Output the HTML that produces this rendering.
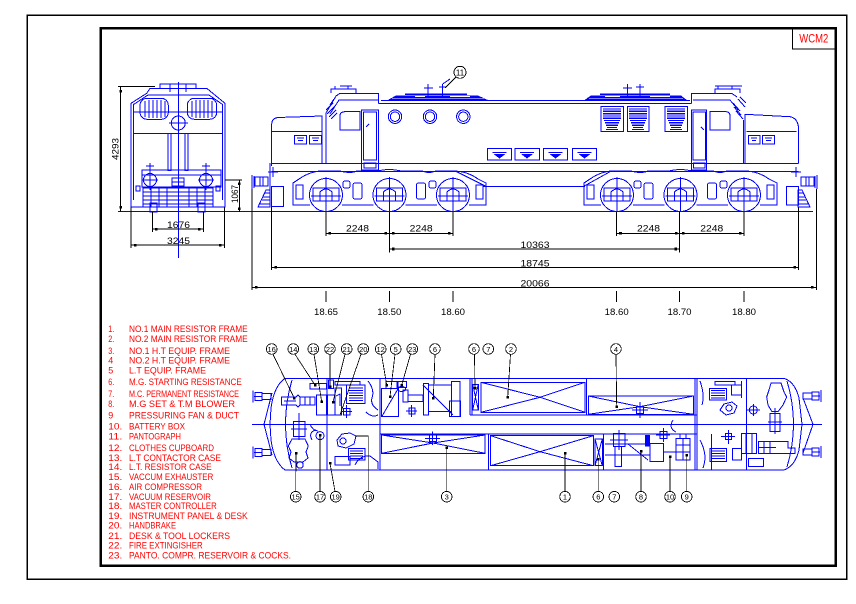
<!DOCTYPE html>
<html><head><meta charset="utf-8"><style>
html,body{margin:0;padding:0;background:#fff;width:856px;height:604px;overflow:hidden}
svg{display:block}
text{font-family:"Liberation Sans",sans-serif}
</style></head><body>
<svg width="856" height="604" viewBox="0 0 856 604" xmlns="http://www.w3.org/2000/svg" shape-rendering="crispEdges">
<defs>
<g id="bg" stroke="#00f" fill="none" stroke-width="1">
 <circle cx="0" cy="0" r="16.5"/><circle cx="63.5" cy="0" r="16.5"/><circle cx="127" cy="0" r="16.5"/>
 <path d="M-33,-6 L-33,-12 L-27,-16 Q-14,-25 0,-24 L14,-24 Q24,-21 31,-24 L52,-24 Q63.5,-27 75,-24 L96,-24 Q103,-21 110,-24 L127,-24 Q141,-24 152,-16 L160,-12 L160,-6"/>
 <path d="M-33,-6 L-33,10 L-16,10 M16,10 L47.5,10 M79.5,10 L111,10 M143,10 L160,10 L160,-6"/>
 <rect x="-13" y="-7" width="26" height="13"/><path d="M-6,6 L-6,-3 Q0,-9 6,-3 L6,6"/>
 <rect x="50.5" y="-7" width="26" height="13"/><path d="M57.5,6 L57.5,-3 Q63.5,-9 69.5,-3 L69.5,6"/>
 <rect x="114" y="-7" width="26" height="13"/><path d="M121,6 L121,-3 Q127,-9 133,-3 L133,6"/>
 <rect x="27" y="-12" width="9" height="16" rx="2"/><rect x="90.5" y="-12" width="9" height="16" rx="2"/>
 <rect x="17" y="-14" width="7" height="7" rx="2"/><rect x="103" y="-14" width="7" height="7" rx="2"/>
 <rect x="-30" y="-10" width="7" height="14"/><rect x="150" y="-10" width="7" height="14"/>
 <path d="M0,-18 L0,17 M63.5,-18 L63.5,17 M127,-18 L127,17 M-15,1 L15,1 M48.5,1 L78.5,1 M112,1 L142,1"/>
</g>
</defs>
<rect width="856" height="604" fill="#fff"/>
<!-- frames -->
<rect x="27.3" y="15.3" width="819.5" height="564" fill="none" stroke="#000" stroke-width="1.3"/>
<rect x="100.8" y="28.2" width="734.7" height="537.5" fill="none" stroke="#000" stroke-width="2.5"/>
<rect x="792.3" y="28.3" width="42.7" height="20.7" fill="none" stroke="#000" stroke-width="1"/>
<text x="799.3" y="42.5" font-size="12" fill="#f00" textLength="29" lengthAdjust="spacingAndGlyphs">WCM2</text>

<!-- ============ FRONT VIEW ============ -->
<g stroke="#00f" fill="none" stroke-width="1">
 <line x1="118" y1="211.7" x2="813" y2="211.7"/>
 <line x1="178.3" y1="82" x2="178.3" y2="258"/>
 <path d="M131,207 L131,103.3 L146.7,93.3 L150,88.3 L206.7,88.3 L225,103.3 L225,207 Z"/>
 <path d="M133.5,200 L133.5,104.5 L148,95 L209,95 L222.5,104.5 L222.5,200"/>
 <path d="M160,88 L160,84 L196,84 L196,88 M170,84 L170,92 M186,84 L186,92"/>
 <rect x="140" y="98.3" width="28.3" height="21" rx="7"/>
 <rect x="187.3" y="98.3" width="29.4" height="21" rx="7"/>
 <path d="M145,101 L145,117 M149,100 L149,118 M153,100 L153,118 M157,100 L157,118 M161,100 L161,118 M165,101 L165,117"/>
 <path d="M192,101 L192,117 M196,100 L196,118 M200,100 L200,118 M204,100 L204,118 M208,100 L208,118 M212,101 L212,117"/>
 <circle cx="178.3" cy="123" r="7"/><line x1="169" y1="123" x2="188" y2="123"/>
 <line x1="133" y1="133.3" x2="223" y2="133.3"/>
 <line x1="133" y1="112" x2="223" y2="112"/>
 <rect x="168" y="133.3" width="3" height="37"/><rect x="185" y="133.3" width="3" height="37"/>
 <rect x="142" y="170" width="79" height="5"/><rect x="142" y="175" width="79" height="12"/>
 <circle cx="150" cy="180" r="6.5"/><circle cx="206" cy="180" r="6.5"/>
 <path d="M150,163 L150,190 M142,180 L158,180 M146,166 L154,166 M206,163 L206,190 M198,180 L214,180 M202,166 L210,166"/>
 <rect x="172" y="178" width="12" height="8"/><line x1="172" y1="182" x2="184" y2="182"/>
 <rect x="143" y="188" width="70" height="19"/>
 <path d="M143,192 L213,192 M143,196 L213,196 M143,200 L213,200 M143,204 L213,204 M151,188 L151,207 M159,188 L159,207 M167,188 L167,207 M189,188 L189,207 M197,188 L197,207 M205,188 L205,207"/>
 <rect x="150" y="203" width="7" height="9"/><rect x="198" y="203" width="7" height="9"/>
 <rect x="136" y="186" width="4" height="5"/><rect x="216" y="186" width="4" height="5"/>
</g>
<g stroke="#000" fill="none" stroke-width="1">
 <line x1="120.7" y1="86.7" x2="120.7" y2="211.7"/>
 <line x1="118" y1="86.7" x2="155" y2="86.7"/>
 <line x1="152.3" y1="212" x2="152.3" y2="232"/><line x1="203.3" y1="212" x2="203.3" y2="232"/>
 <line x1="152.3" y1="229" x2="203.3" y2="229"/>
 <line x1="131" y1="207" x2="131" y2="248"/><line x1="224.3" y1="207" x2="224.3" y2="248"/>
 <line x1="131" y1="245" x2="224.3" y2="245"/>
 <line x1="225" y1="180" x2="242" y2="180"/>
 <line x1="239.3" y1="180" x2="239.3" y2="212"/>
</g>
<g fill="#000">
 <rect x="119.5" y="90" width="2.5" height="2.5"/><rect x="119.5" y="206" width="2.5" height="2.5"/>
 <rect x="155" y="227.8" width="2.5" height="2.5"/><rect x="198" y="227.8" width="2.5" height="2.5"/>
 <rect x="134" y="243.8" width="2.5" height="2.5"/><rect x="219" y="243.8" width="2.5" height="2.5"/>
 <rect x="238" y="182.5" width="2.5" height="2.5"/><rect x="238" y="207.5" width="2.5" height="2.5"/>
 <text x="167" y="228" font-size="9" textLength="23" lengthAdjust="spacingAndGlyphs">1676</text>
 <text x="167" y="244" font-size="9" textLength="23" lengthAdjust="spacingAndGlyphs">3245</text>
 <text transform="translate(118.3,160) rotate(-90)" x="0" y="0" font-size="9" textLength="22" lengthAdjust="spacingAndGlyphs">4293</text>
 <text transform="translate(238,203) rotate(-90)" x="0" y="0" font-size="9" textLength="18" lengthAdjust="spacingAndGlyphs">1067</text>
</g>

<!-- ============ SIDE VIEW ============ -->
<g stroke="#00f" fill="none" stroke-width="1">
 <rect x="255" y="177" width="13" height="9"/><path d="M252,175 L252,189 M254,176 L254,188 M260,177 L260,186 M263,177 L263,186"/>
 <path d="M258,207 L270,207 L270,190 L266,190 Z M260,204 L270,204 M262,200 L270,200 M263,197 L270,197 M265,193 L270,193"/>
 <rect x="271.7" y="186.7" width="11.6" height="20"/>
 <path d="M270,163 L270,190"/>
 <path d="M268,172 L278,172 M273,167 L273,177"/>
 <path d="M271.7,166 L271.7,124 Q272,118 278,117.5 L322,116 L322,163.3"/>
 <line x1="271.7" y1="131.7" x2="322" y2="131.7"/>
 <rect x="294.3" y="135.3" width="12.3" height="8.7"/><rect x="309.3" y="135.3" width="12.3" height="8.7"/>
 <path d="M297,138 L304,138 M298,140.5 L303,140.5 M312,138 L319,138 M313,140.5 L318,140.5"/>
 <path d="M326,163.3 L326,113 L336,96 L340,93.3 L378.3,93.3 L378.3,103.3"/>
 <path d="M330,114 L339,100 L378,100"/>
 <path d="M326,110 L333,103 M327,114 L335,106 M329,117 L336,110 M331,119 L337,113 M334,99 L330,105"/>
 <path d="M331,93 L331,89 L356,89 L356,93 M335,89 L335,86 M348,89 L348,86 M340,86 L352,86"/>
 <path d="M340,130 L340,116 Q340,111.7 345,111.7 L360,111.7 L360,130 Z"/>
 <rect x="361.7" y="110" width="16.6" height="60"/><rect x="363.5" y="112" width="13" height="48"/>
 <rect x="364" y="163" width="12" height="5"/><line x1="366" y1="127" x2="369" y2="124"/>
 <line x1="378.3" y1="103.3" x2="691.7" y2="103.3"/>
 <line x1="381" y1="100.5" x2="690" y2="100.5"/>
 <path d="M428,84 L428,97 M424,88 L433,88 M442.7,84 L442.7,97 M439,87 L446,87 M442.7,84 L450,79"/>
 <path d="M627.3,84 L627.3,97 M623,88 L632,88 M640,84 L640,97 M636,87 L644,87"/>
 <circle cx="395" cy="116.7" r="6.7"/><circle cx="395" cy="116.7" r="4.7"/>
 <circle cx="430" cy="116.7" r="6.7"/><circle cx="430" cy="116.7" r="4.7"/>
 <circle cx="463.3" cy="116.7" r="6.7"/><circle cx="463.3" cy="116.7" r="4.7"/>
 <rect x="487.3" y="148.3" width="24.4" height="11.7"/><rect x="515" y="148.3" width="24.4" height="11.7"/>
 <rect x="543.3" y="148.3" width="24.4" height="11.7"/><rect x="572.3" y="148.3" width="24.4" height="11.7"/>
 <rect x="601" y="106.7" width="22.3" height="25"/><rect x="627.3" y="106.7" width="21.7" height="25"/><rect x="665" y="106.7" width="22.3" height="25"/>
 <path d="M691.7,103.3 L691.7,93.3 L731.7,93.3 L737,97"/>
 <path d="M693,100 L730,100 L738,110"/>
 <path d="M733,103 L740,111 M734,107 L741,115 M736,111 L743,119 M738,99 L745,107 M740,97 L746,103"/>
 <path d="M715,93 L715,89 L740,89 L740,93 M718,89 L718,86 M732,89 L732,86 M715,86 L742,86"/>
 <rect x="691.7" y="110" width="15" height="60"/><rect x="693" y="112" width="12.5" height="48"/>
 <rect x="693.5" y="163" width="11.5" height="5"/><line x1="701" y1="127" x2="704" y2="130"/>
 <path d="M710,130 L710,111.7 L726,111.7 Q730,111.7 730,116 L730,130 Z"/>
 <path d="M743.3,120 L743.3,163.3"/>
 <path d="M745,163.3 L745,114.3 L790,116.7 Q797,118 798.3,126 L798.3,163.3"/>
 <line x1="746.7" y1="131.7" x2="796.7" y2="131.7"/>
 <rect x="748.3" y="135.3" width="11.7" height="8.7"/><rect x="762.7" y="135.3" width="11.6" height="8.7"/>
 <path d="M751,138 L757,138 M752,140.5 L756,140.5 M765,138 L772,138 M766,140.5 L771,140.5"/>
 <rect x="801" y="177" width="13" height="9"/><path d="M817,175 L817,189 M815,176 L815,188 M806,177 L806,186 M809,177 L809,186"/>
 <path d="M810,207 L798,207 L798,190 L802,190 Z M798,204 L809,204 M798,200 L806,200 M798,197 L805,197 M798,193 L803,193"/>
 <rect x="786.7" y="186.7" width="11.6" height="18.3"/>
 <path d="M791,172 L801,172 M796,167 L796,177"/>
 <line x1="271.7" y1="163.3" x2="798.3" y2="163.3"/>
 <line x1="271.7" y1="171.7" x2="798.3" y2="171.7"/>
 <line x1="483" y1="186.7" x2="585" y2="186.7"/>
 <path d="M456.7,171.7 L486.7,186.7 M583,186.7 L610,171.7"/>
</g>
<g fill="#00f" stroke="none">
 <polygon points="386,101 396,95.5 478,95.5 490,101"/>
 <polygon points="583,101 591,95.5 681,95.5 688,101"/>
 <rect x="405" y="93.5" width="62" height="1.3"/><rect x="600" y="93.5" width="70" height="1.3"/>
</g>
<g stroke="#fff" stroke-width="0.7">
 <line x1="392" y1="98.3" x2="484" y2="98.3"/><line x1="589" y1="98.3" x2="683" y2="98.3"/>
 <line x1="415" y1="96.5" x2="425" y2="96.5"/><line x1="450" y1="96.5" x2="470" y2="96.5"/>
 <line x1="605" y1="96.5" x2="620" y2="96.5"/><line x1="650" y1="96.5" x2="670" y2="96.5"/>
</g>
<g fill="#00f">
 <polygon points="493.5,154 505.5,154 499.5,158.5"/><rect x="492.5" y="151.8" width="14" height="1.2"/>
 <polygon points="521,154 533,154 527,158.5"/><rect x="520" y="151.8" width="14" height="1.2"/>
 <polygon points="549.5,154 561.5,154 555.5,158.5"/><rect x="548.5" y="151.8" width="14" height="1.2"/>
 <polygon points="578.5,154 590.5,154 584.5,158.5"/><rect x="577.5" y="151.8" width="14" height="1.2"/>
</g>
<g stroke="#00f" stroke-width="1.3">
 <path d="M603,109 L621,109 M603,111.3 L621,111.3 M603,113.6 L621,113.6 M603,115.9 L621,115.9 M603,118.2 L621,118.2 M604,120.5 L620,120.5 M605,122.8 L619,122.8 M606,125.1 L618,125.1 M607,127.4 L617,127.4 M606,129.5 L618,129.5"/>
 <path d="M629,109 L647,109 M629,111.3 L647,111.3 M629,113.6 L647,113.6 M629,115.9 L647,115.9 M629,118.2 L647,118.2 M630,120.5 L646,120.5 M631,122.8 L645,122.8 M632,125.1 L644,125.1 M633,127.4 L643,127.4 M632,129.5 L644,129.5"/>
 <path d="M667,109 L685,109 M667,111.3 L685,111.3 M667,113.6 L685,113.6 M667,115.9 L685,115.9 M667,118.2 L685,118.2 M668,120.5 L684,120.5 M669,122.8 L683,122.8 M670,125.1 L682,125.1 M671,127.4 L681,127.4 M670,129.5 L682,129.5"/>
</g>
<use href="#bg" x="326" y="195"/>
<use href="#bg" x="617" y="195"/>

<g stroke="#000" fill="none" stroke-width="1">
 <path d="M326,212 L326,236 M389.3,212 L389.3,252.3 M453,212 L453,236 M616.7,212 L616.7,236 M679.5,212 L679.5,252.3 M744,212 L744,236"/>
 <path d="M271.7,207 L271.7,270 M252,189 L252,290 M798.3,207 L798.3,270 M816.7,189 L816.7,290"/>
 <path d="M326,233.3 L453,233.3 M616.7,233.3 L744,233.3"/>
 <line x1="389.3" y1="249" x2="679.5" y2="249"/>
 <line x1="271.7" y1="267.3" x2="798.3" y2="267.3"/>
 <line x1="252" y1="287.3" x2="816.7" y2="287.3"/>
 <path d="M326,291 L326,302 M389.3,291 L389.3,302 M453,291 L453,302 M616.7,291 L616.7,302 M679.5,291 L679.5,302 M744,291 L744,302"/>
</g>
<g fill="#000">
 <rect x="328.5" y="232" width="2.6" height="2.6"/><rect x="384.5" y="232" width="2.6" height="2.6"/>
 <rect x="391.8" y="232" width="2.6" height="2.6"/><rect x="448" y="232" width="2.6" height="2.6"/>
 <rect x="619.2" y="232" width="2.6" height="2.6"/><rect x="674.8" y="232" width="2.6" height="2.6"/>
 <rect x="682" y="232" width="2.6" height="2.6"/><rect x="739" y="232" width="2.6" height="2.6"/>
 <rect x="392" y="247.7" width="2.6" height="2.6"/><rect x="674.5" y="247.7" width="2.6" height="2.6"/>
 <rect x="274.3" y="266" width="2.6" height="2.6"/><rect x="793.3" y="266" width="2.6" height="2.6"/>
 <rect x="255" y="286" width="2.6" height="2.6"/><rect x="811" y="286" width="2.6" height="2.6"/>
 <g font-size="9">
 <text x="346" y="231.6" textLength="23" lengthAdjust="spacingAndGlyphs">2248</text>
 <text x="409.6" y="231.6" textLength="23" lengthAdjust="spacingAndGlyphs">2248</text>
 <text x="637" y="231.6" textLength="23" lengthAdjust="spacingAndGlyphs">2248</text>
 <text x="700.3" y="231.6" textLength="23" lengthAdjust="spacingAndGlyphs">2248</text>
 <text x="520.5" y="248" textLength="29" lengthAdjust="spacingAndGlyphs">10363</text>
 <text x="520.5" y="266.3" textLength="29" lengthAdjust="spacingAndGlyphs">18745</text>
 <text x="520.5" y="286.3" textLength="29" lengthAdjust="spacingAndGlyphs">20066</text>
 <text x="314" y="315" textLength="24" lengthAdjust="spacingAndGlyphs">18.65</text>
 <text x="377.3" y="315" textLength="24" lengthAdjust="spacingAndGlyphs">18.50</text>
 <text x="441" y="315" textLength="24" lengthAdjust="spacingAndGlyphs">18.60</text>
 <text x="604.7" y="315" textLength="24" lengthAdjust="spacingAndGlyphs">18.60</text>
 <text x="667.5" y="315" textLength="24" lengthAdjust="spacingAndGlyphs">18.70</text>
 <text x="732" y="315" textLength="24" lengthAdjust="spacingAndGlyphs">18.80</text>
 </g>
</g>
<g stroke="#000" fill="none" stroke-width="0.9">
 <circle cx="460" cy="72.3" r="6"/><line x1="456" y1="77" x2="445" y2="88"/>
</g>
<text x="460" y="75.3" font-size="8" text-anchor="middle" fill="#000">11</text>

<!-- ============ LEGEND ============ -->
<g fill="#f00" font-size="9.5">
 <text x="108.3" y="331.8" textLength="6" lengthAdjust="spacingAndGlyphs">1.</text><text x="129" y="331.8" textLength="118.7" lengthAdjust="spacingAndGlyphs">NO.1 MAIN RESISTOR FRAME</text>
 <text x="108.3" y="341.8" textLength="6" lengthAdjust="spacingAndGlyphs">2.</text><text x="129" y="341.8" textLength="118.7" lengthAdjust="spacingAndGlyphs">NO.2 MAIN RESISTOR FRAME</text>
 <text x="108.3" y="354.2" textLength="6" lengthAdjust="spacingAndGlyphs">3.</text><text x="129" y="354.2" textLength="101" lengthAdjust="spacingAndGlyphs">NO.1 H.T EQUIP. FRAME</text>
 <text x="108.3" y="363.5" textLength="5" lengthAdjust="spacingAndGlyphs">4</text><text x="129" y="363.5" textLength="101" lengthAdjust="spacingAndGlyphs">NO.2 H.T EQUIP. FRAME</text>
 <text x="108.3" y="373.5" textLength="5" lengthAdjust="spacingAndGlyphs">5</text><text x="129" y="373.5" textLength="77" lengthAdjust="spacingAndGlyphs">L.T EQUIP. FRAME</text>
 <text x="108.3" y="385.2" textLength="6" lengthAdjust="spacingAndGlyphs">6.</text><text x="129" y="385.2" textLength="112.7" lengthAdjust="spacingAndGlyphs">M.G. STARTING RESISTANCE</text>
 <text x="108.3" y="396.8" textLength="6" lengthAdjust="spacingAndGlyphs">7.</text><text x="129" y="396.8" textLength="110" lengthAdjust="spacingAndGlyphs">M.C. PERMANENT RESISTANCE</text>
 <text x="108.3" y="406.8" textLength="6" lengthAdjust="spacingAndGlyphs">8.</text><text x="129" y="406.8" textLength="106" lengthAdjust="spacingAndGlyphs">M.G SET &amp; T.M BLOWER</text>
 <text x="108.3" y="418.5" textLength="5" lengthAdjust="spacingAndGlyphs">9</text><text x="129" y="418.5" textLength="110" lengthAdjust="spacingAndGlyphs">PRESSURING FAN &amp; DUCT</text>
 <text x="108.3" y="429.5" textLength="14" lengthAdjust="spacingAndGlyphs">10.</text><text x="129" y="429.5" textLength="56" lengthAdjust="spacingAndGlyphs">BATTERY BOX</text>
 <text x="108.3" y="439.5" textLength="14" lengthAdjust="spacingAndGlyphs">11.</text><text x="129" y="439.5" textLength="52" lengthAdjust="spacingAndGlyphs">PANTOGRAPH</text>
 <text x="108.3" y="451.2" textLength="14" lengthAdjust="spacingAndGlyphs">12.</text><text x="129" y="451.2" textLength="85" lengthAdjust="spacingAndGlyphs">CLOTHES CUPBOARD</text>
 <text x="108.3" y="460.8" textLength="14" lengthAdjust="spacingAndGlyphs">13.</text><text x="129" y="460.8" textLength="92" lengthAdjust="spacingAndGlyphs">L.T CONTACTOR CASE</text>
 <text x="108.3" y="470.2" textLength="14" lengthAdjust="spacingAndGlyphs">14.</text><text x="129" y="470.2" textLength="82.7" lengthAdjust="spacingAndGlyphs">L.T. RESISTOR CASE</text>
 <text x="108.3" y="480.2" textLength="14" lengthAdjust="spacingAndGlyphs">15.</text><text x="129" y="480.2" textLength="84.3" lengthAdjust="spacingAndGlyphs">VACCUM EXHAUSTER</text>
 <text x="108.3" y="490.2" textLength="14" lengthAdjust="spacingAndGlyphs">16.</text><text x="129" y="490.2" textLength="73" lengthAdjust="spacingAndGlyphs">AIR COMPRESSOR</text>
 <text x="108.3" y="500.2" textLength="14" lengthAdjust="spacingAndGlyphs">17.</text><text x="129" y="500.2" textLength="82" lengthAdjust="spacingAndGlyphs">VACUUM RESERVOIR</text>
 <text x="108.3" y="509.2" textLength="14" lengthAdjust="spacingAndGlyphs">18.</text><text x="129" y="509.2" textLength="87.7" lengthAdjust="spacingAndGlyphs">MASTER CONTROLLER</text>
 <text x="108.3" y="519.2" textLength="14" lengthAdjust="spacingAndGlyphs">19.</text><text x="129" y="519.2" textLength="118.7" lengthAdjust="spacingAndGlyphs">INSTRUMENT PANEL &amp; DESK</text>
 <text x="108.3" y="528.5" textLength="14" lengthAdjust="spacingAndGlyphs">20.</text><text x="129" y="528.5" textLength="47" lengthAdjust="spacingAndGlyphs">HANDBRAKE</text>
 <text x="108.3" y="539.2" textLength="14" lengthAdjust="spacingAndGlyphs">21.</text><text x="129" y="539.2" textLength="101" lengthAdjust="spacingAndGlyphs">DESK &amp; TOOL LOCKERS</text>
 <text x="108.3" y="548.5" textLength="14" lengthAdjust="spacingAndGlyphs">22.</text><text x="129" y="548.5" textLength="73.7" lengthAdjust="spacingAndGlyphs">FIRE EXTINGISHER</text>
 <text x="108.3" y="558.5" textLength="14" lengthAdjust="spacingAndGlyphs">23.</text><text x="129" y="558.5" textLength="162" lengthAdjust="spacingAndGlyphs">PANTO. COMPR. RESERVOIR &amp; COCKS.</text>
</g>

<!-- ============ PLAN VIEW ============ -->
<g stroke="#00f" fill="none" stroke-width="1">
 <path d="M285,378.3 L784,378.3 Q795,382 799,398 L802,424.3 L799,450 Q795,466 784,470 L285,470 Q274,462 271,440 L270,424.3 L271,408 Q274,386 285,378.3 Z"/>
 <path d="M292,380 Q279,424 292,468"/>
 <path d="M787,381 Q800,424 787,467"/>
 <path d="M272,393 L264,424.3 L272,455 M803,398 L813,424.3 L803,453"/>
 <line x1="252" y1="424.3" x2="822" y2="424.3"/>
 <path d="M253,390.7 L253,402.7 M253,446.3 L253,458.3 M821,390 L821,402 M821,446 L821,458"/>
 <rect x="255" y="392.7" width="7" height="8"/><rect x="262" y="393.7" width="9" height="6"/>
 <rect x="255" y="448.3" width="7" height="8"/><rect x="262" y="449.3" width="9" height="6"/>
 <rect x="812" y="392" width="7" height="8"/><rect x="803" y="393" width="9" height="6"/>
 <rect x="812" y="448" width="7" height="8"/><rect x="803" y="449" width="9" height="6"/>
 <path d="M254,396.7 L262,396.7 M254,452.3 L262,452.3 M812,396 L820,396 M812,452 L820,452"/>
 <path d="M327,378.3 L327,470 M380,378.3 L380,470 M470,378.3 L470,415 M472,378.3 L472,415 M470,415 L697,415 M380,434 L697,434 M488.3,434 L488.3,470 M586.5,378.3 L586.5,415 M603.3,434 L603.3,470 M695,378.3 L695,470 M697,378.3 L697,470 M746.7,378.3 L746.7,470 M711.7,434 L711.7,470 M741.7,381 L741.7,398"/>
 <rect x="481" y="382.3" width="104" height="30"/><path d="M481,382.3 L540,397.3 L481,412.3 M585,382.3 L540,397.3 L585,412.3"/>
 <rect x="588.3" y="396" width="105" height="18.3"/><path d="M588.3,396 L640,406.7 L693.3,396 M588.3,414.3 L640,406.7 L693.3,414.3"/>
 <rect x="636.5" y="406.5" width="7" height="7"/><path d="M640,402 L640,418 M632,410 L648,410"/>
 <rect x="381.7" y="435" width="103.3" height="18.3"/><path d="M381.7,435 L433,443 L485,435 M381.7,453.3 L433,443 L485,453.3"/>
 <rect x="429.5" y="435" width="7" height="6.5"/><path d="M432.7,431.5 L432.7,445 M425,438.3 L440,438.3"/>
 <rect x="490.7" y="435.7" width="102.6" height="30"/><path d="M490.7,435.7 L540,451.7 L490.7,465.7 M593.3,435.7 L540,451.7 L593.3,465.7"/>
 <rect x="595" y="439" width="7.3" height="26.7"/><path d="M595,439 L602.3,465.7 M602.3,439 L595,465.7"/>
 <rect x="472.7" y="384.3" width="5.6" height="25.7"/><path d="M472.7,384.3 L478.3,410 M478.3,384.3 L472.7,410"/>
 <rect x="423.3" y="383.3" width="5" height="31.7"/><rect x="428.3" y="385" width="23.4" height="26.7"/>
 <rect x="451.7" y="381.7" width="8.3" height="35"/><rect x="449.3" y="401" width="11.4" height="15.7"/>
 <path d="M423,385 L453,415"/>
 <rect x="408" y="395" width="15" height="6.7"/><rect x="403" y="390" width="5" height="12"/>
 <rect x="409" y="408" width="6" height="6"/><path d="M411.7,405 L411.7,417 M406,411 L417,411"/>
 <rect x="381.7" y="388.3" width="16.6" height="28.4"/><path d="M381.7,416.7 L398.3,388.3"/>
 <rect x="386" y="381.7" width="12" height="6.6"/>
 <rect x="397" y="381.7" width="9.7" height="6"/><ellipse cx="401.7" cy="389" rx="4" ry="2.5"/>
 <rect x="310" y="383.3" width="16.7" height="5.7"/>
 <rect x="316.7" y="395" width="10" height="20"/><rect x="327.3" y="395" width="7.7" height="20"/>
 <rect x="328.3" y="380" width="5" height="8.3"/>
 <rect x="335" y="388" width="6.7" height="27"/><path d="M336,396 L340,394 L340,406"/>
 <rect x="346.7" y="385" width="18.3" height="18.3"/>
 <rect x="335" y="381.7" width="25" height="3.3"/>
 <rect x="343.5" y="408.5" width="6.5" height="6.5"/><path d="M346.7,405 L346.7,418 M341,411.7 L352,411.7"/>
 <path d="M368,381 Q375,390 372,398 Q370,405 378,410 M366,412 Q372,418 378,415"/>
 <path d="M281.7,397 L296,397 L298,395 L300,397 L315,397 L315,405 L300,405 L298,407 L296,405 L281.7,405 Z"/>
 <path d="M300,397 L300,405 M305,397 L305,405 M310,397 L310,405 M284,401 L296,401"/>
 <rect x="293.3" y="421.7" width="11.7" height="15"/><path d="M299,413 L299,440 M291,429 L307,429"/>
 <path d="M292,439 L305,439 L308.3,446 L306,452 L308,458 L303,462 L294,462 L289,458 L291,452 L288.3,446 Z"/>
 <circle cx="300" cy="465" r="3.3"/>
 <circle cx="320" cy="435.7" r="4"/>
 <path d="M337,440 L342,434 L350,433 L356,436 L354,444 L346,448 L338,446 Z"/>
 <circle cx="343" cy="441" r="3"/>
 <rect x="348.3" y="448.3" width="16.7" height="11.7"/>
 <rect x="335" y="456.7" width="15" height="8.3"/>
 <path d="M355,465 Q360,455 370,456 L378,462 L378,469"/>
 <path d="M316,430 Q308,432 312,440 M310,424 Q312,430 318,431"/>
 <rect x="613.3" y="433.3" width="11.7" height="13.4"/><path d="M619,430 L619,450 M610,440 L628,440"/>
 <rect x="615" y="446.7" width="6.7" height="20"/>
 <rect x="650" y="443.3" width="13.3" height="18.4"/>
 <path d="M605,444 L650,444 M605,455 L650,455 M628,444 L648,460 M663.3,452 L676,452"/>
 <rect x="660" y="431.5" width="7" height="7"/><path d="M663.3,428 L663.3,442 M656,435 L670,435"/>
 <rect x="676" y="438.3" width="14" height="21.7"/><path d="M676,445 L690,445 M676,452 L690,452 M683,438.3 L683,460 M680,434 L680,438 M686,434 L686,438"/>
 <path d="M673,420 Q668,428 676,432"/>
 <rect x="709.3" y="388.3" width="17.4" height="11.7"/>
 <rect x="715" y="381.7" width="20" height="3.3"/>
 <rect x="731.7" y="385" width="10" height="10"/>
 <path d="M720,410 L724,404 L732,402 L737,406 L734,413 L726,415 Z"/><circle cx="729" cy="408" r="3"/>
 <rect x="725.3" y="433.7" width="6" height="6"/><path d="M728.3,430 L728.3,444 M721,436.7 L735,436.7"/>
 <rect x="710" y="448.3" width="16.7" height="13.4"/>
 <rect x="732.7" y="448.3" width="9" height="11.7"/>
 <rect x="741.7" y="433.3" width="15" height="20"/><path d="M746,433.3 L746,453.3 M752,433.3 L752,453.3"/>
 <rect x="748.3" y="458.3" width="15" height="8.4"/>
 <path d="M758.3,441.7 L788,441.7 L788,448 L795,448 L795,453.3 L758.3,453.3 Z M764,441.7 L764,453.3 M770,441.7 L770,453.3 M758.3,447.5 L776,447.5"/>
 <path d="M771,383 L781,383 L784,392 L786.7,397 L783,405 L778,411.7 L772,411.7 L768,405 L766.7,397 L769,390 Z"/>
 <rect x="770" y="413.3" width="10" height="18.4"/><path d="M775,408 L775,434 M768,422 L782,422"/>
 <circle cx="753.3" cy="410" r="4"/><path d="M753.3,404 L753.3,416 M747,410 L760,410"/>
 <path d="M700,381 Q705,395 702,405 M700,440 Q708,455 703,468"/>
</g>
<g stroke="#00f" stroke-width="1.1">
 <path d="M349,388 L363,388 M349,390.5 L363,390.5 M349,393 L363,393 M349,395.5 L363,395.5 M349,398 L363,398 M349,400.5 L363,400.5"/>
 <path d="M350,451 L363,451 M350,453.5 L363,453.5 M350,456 L363,456 M350,458.5 L363,458.5"/>
 <path d="M711,390.5 L725,390.5 M711,393 L725,393 M711,395.5 L725,395.5 M711,398 L725,398"/>
 <path d="M712,451 L725,451 M712,453.5 L725,453.5 M712,456 L725,456 M712,458.5 L725,458.5"/>
</g>
<g fill="#00f">
 <rect x="645" y="435" width="5" height="11.7"/>
</g>

<!-- ============ BALLOONS ============ -->
<g stroke="#000" fill="none" stroke-width="0.8">
 <circle cx="271.7" cy="349" r="5.3"/><circle cx="293.3" cy="349" r="5.3"/><circle cx="313.3" cy="349" r="5.3"/>
 <circle cx="330" cy="349" r="5.3"/><circle cx="346.7" cy="349" r="5.3"/><circle cx="363.3" cy="349" r="5.3"/>
 <circle cx="380.7" cy="349" r="5.3"/><circle cx="395.7" cy="349" r="5.3"/><circle cx="412.3" cy="349" r="5.3"/>
 <circle cx="435" cy="349" r="5.3"/><circle cx="474" cy="349" r="5.3"/><circle cx="488.3" cy="349" r="5.3"/>
 <circle cx="511" cy="349" r="5.3"/><circle cx="616" cy="349" r="5.3"/>
 <circle cx="295.7" cy="496.7" r="5.3"/><circle cx="320" cy="496.7" r="5.3"/><circle cx="335.7" cy="496.7" r="5.3"/>
 <circle cx="368.3" cy="496.7" r="5.3"/><circle cx="446.7" cy="496.7" r="5.3"/><circle cx="565" cy="496.7" r="5.3"/>
 <circle cx="598.3" cy="496.7" r="5.3"/><circle cx="614.3" cy="496.7" r="5.3"/><circle cx="641" cy="496.7" r="5.3"/>
 <circle cx="670" cy="496.7" r="5.3"/><circle cx="686.7" cy="496.7" r="5.3"/>
 <path d="M273,354.3 L294.3,398.3 M295,354.3 L315,385 M314,354.3 L321.7,401.7 M330,354.3 L330,386.7 M345,354.3 L333,402 M361,354.3 L340,415 M381.5,354.3 L386.7,385 M395,354.3 L390,396.7 M410.5,354.3 L401.7,385 M435,354.3 L433.3,398.3 M474.5,354.3 L475,388.3 M510.5,354.3 L507.7,397.3 M616,354.3 L616.7,406.7"/>
 <path d="M295.7,491.4 L296,453.3 M320,491.4 L320,435 M335,491.4 L330,463.3 M368.3,491.4 L368.3,436 L355,436 M446.7,491.4 L446.7,447.7 M565,491.4 L565,453.3 M598.3,491.4 L598.3,459.3 M641,491.4 L641,451 M670,491.4 L670,456.7 M686.7,491.4 L686.7,455"/>
</g>
<g fill="#000">
 <rect x="293" y="397" width="2.5" height="2.5"/><rect x="313.8" y="383.8" width="2.5" height="2.5"/><rect x="320.5" y="400.5" width="2.5" height="2.5"/>
 <rect x="328.8" y="385.5" width="2.5" height="2.5"/><rect x="331.8" y="400.8" width="2.5" height="2.5"/><rect x="385.5" y="383.8" width="2.5" height="2.5"/>
 <rect x="388.8" y="395.5" width="2.5" height="2.5"/><rect x="400.5" y="383.8" width="2.5" height="2.5"/><rect x="432" y="397" width="2.5" height="2.5"/>
 <rect x="473.8" y="387" width="2.5" height="2.5"/><rect x="506.5" y="396" width="2.5" height="2.5"/><rect x="615.5" y="405.5" width="2.5" height="2.5"/>
 <rect x="294.8" y="452" width="2.5" height="2.5"/><rect x="318.8" y="433.8" width="2.5" height="2.5"/><rect x="328.8" y="462" width="2.5" height="2.5"/>
 <rect x="445.5" y="446.5" width="2.5" height="2.5"/><rect x="563.8" y="452" width="2.5" height="2.5"/><rect x="597" y="458" width="2.5" height="2.5"/>
 <rect x="639.8" y="449.8" width="2.5" height="2.5"/><rect x="668.8" y="455.5" width="2.5" height="2.5"/><rect x="685.5" y="453.8" width="2.5" height="2.5"/>
 <g font-size="7.5" text-anchor="middle">
 <text x="271.7" y="351.8">16</text><text x="293.3" y="351.8">14</text><text x="313.3" y="351.8">13</text>
 <text x="330" y="351.8">22</text><text x="346.7" y="351.8">21</text><text x="363.3" y="351.8">20</text>
 <text x="380.7" y="351.8">12</text><text x="395.7" y="351.8">5</text><text x="412.3" y="351.8">23</text>
 <text x="435" y="351.8">6</text><text x="474" y="351.8">6</text><text x="488.3" y="351.8">7</text>
 <text x="511" y="351.8">2</text><text x="616" y="351.8">4</text>
 <text x="295.7" y="499.5">15</text><text x="320" y="499.5">17</text><text x="335.7" y="499.5">19</text>
 <text x="368.3" y="499.5">18</text><text x="446.7" y="499.5">3</text><text x="565" y="499.5">1</text>
 <text x="598.3" y="499.5">6</text><text x="614.3" y="499.5">7</text><text x="641" y="499.5">8</text>
 <text x="670" y="499.5">10</text><text x="686.7" y="499.5">9</text>
 </g>
</g>
</svg>
</body></html>
